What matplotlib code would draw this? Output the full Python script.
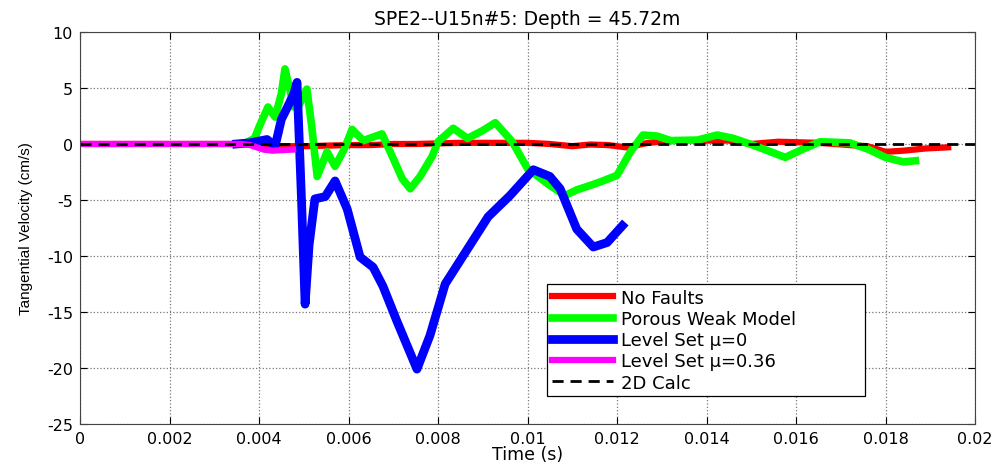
import numpy as np
import matplotlib
matplotlib.use('Agg')
import matplotlib.pyplot as plt

plt.rcParams['font.family'] = ['DejaVu Sans']
plt.rcParams['axes.unicode_minus'] = False

# Tangential velocity traces (time in s, velocity in cm/s)
t_nofault = [0.0, 0.0036, 0.0040, 0.0045, 0.0050, 0.0055, 0.0060, 0.0065, 0.0070, 0.0075,
             0.0080, 0.0085, 0.0090, 0.0095, 0.0100, 0.0105, 0.0110, 0.0114, 0.0118,
             0.0122, 0.0127, 0.0132, 0.0138, 0.0145, 0.0150, 0.0156, 0.0165, 0.0172,
             0.0176, 0.0180, 0.0184, 0.0189, 0.0194]
v_nofault = [0.0, 0.0, -0.1, -0.2, -0.2, -0.15, -0.1, -0.1, 0.0, 0.0,
             0.05, 0.1, 0.1, 0.1, 0.1, 0.0, -0.2, -0.05, -0.1,
             -0.3, 0.1, 0.3, 0.3, 0.3, 0.0, 0.2, 0.1, -0.1,
             -0.2, -0.7, -0.6, -0.4, -0.3]

t_porous = [0.0035, 0.0037, 0.0039, 0.0040, 0.0042, 0.00436, 0.0045, 0.00458, 0.00468,
            0.00478, 0.00490, 0.00507, 0.00518, 0.0053, 0.00552, 0.0057, 0.0059,
            0.00608, 0.00633, 0.00675, 0.0070, 0.0072, 0.00738, 0.0076, 0.00787,
            0.0080, 0.00834, 0.00866, 0.0090, 0.00928, 0.00966, 0.0100, 0.0105,
            0.01084, 0.0111, 0.01133, 0.01162, 0.0120, 0.0123, 0.01258, 0.0129,
            0.0132, 0.0138, 0.01424, 0.0146, 0.01504, 0.01576, 0.01616, 0.01654,
            0.0172, 0.0176, 0.0180, 0.0184, 0.01867]
v_porous = [0.0, 0.1, 0.5, 1.5, 3.3, 2.4, 4.5, 6.7, 5.0,
            3.3, 3.5, 4.9, 1.5, -2.9, -0.7, -2.0, -0.5,
            1.3, 0.3, 0.9, -1.3, -3.1, -4.0, -2.9, -1.1,
            0.2, 1.4, 0.5, 1.2, 1.9, 0.2, -2.2, -3.7,
            -4.6, -4.1, -3.8, -3.4, -2.8, -0.7, 0.8, 0.7,
            0.3, 0.35, 0.8, 0.5, -0.1, -1.2, -0.45, 0.2,
            0.1, -0.45, -1.2, -1.6, -1.5]

t_ls0 = [0.0035, 0.0038, 0.00418, 0.00436, 0.0045, 0.00465, 0.00478, 0.00485,
         0.00495, 0.00503, 0.00512, 0.00525, 0.00548, 0.0057, 0.00597, 0.00626,
         0.00655, 0.00677, 0.00709, 0.00753, 0.00782, 0.00816, 0.00856, 0.00912,
         0.00961, 0.01013, 0.0105, 0.01073, 0.0111, 0.01147, 0.01178, 0.01212]
v_ls0 = [0.0, 0.1, 0.4, -0.2, 2.2, 3.4, 4.5, 5.5,
         -5.0, -14.3, -9.0, -4.9, -4.7, -3.3, -5.8, -10.1,
         -11.0, -12.7, -15.9, -20.1, -17.1, -12.5, -10.0, -6.5,
         -4.6, -2.3, -2.9, -4.0, -7.6, -9.2, -8.8, -7.3]

t_ls036 = [0.0, 0.0036, 0.0038, 0.0041, 0.0043, 0.0045, 0.00476]
v_ls036 = [0.0, 0.0, -0.1, -0.5, -0.6, -0.55, -0.5]

t_2d = [0.0, 0.02]
v_2d = [0.0, 0.0]

fig = plt.figure(figsize=(10, 4.64), dpi=100)
ax = fig.add_axes([0.08, 0.084, 0.895, 0.845])

line_kw = dict(solid_joinstyle='round')
ax.plot(t_nofault, v_nofault, color='#ff0000', linewidth=4.5, label='No Faults', **line_kw)
ax.plot(t_porous, v_porous, color='#00ff00', linewidth=5.5, label='Porous Weak Model', **line_kw)
ax.plot(t_ls0, v_ls0, color='#0000ff', linewidth=6.3, label='Level Set \u03bc=0', **line_kw)
ax.plot(t_ls036, v_ls036, color='#ff00ff', linewidth=4.5, label='Level Set \u03bc=0.36', **line_kw)
ax.plot(t_2d, v_2d, color='black', linewidth=2, linestyle=(0, (4, 2.5)), label='2D Calc')

ax.set_xlim(0, 0.02)
ax.set_ylim(-25, 10)
ax.set_xticks(np.arange(0, 0.0201, 0.002))
ax.set_xticklabels(['0', '0.002', '0.004', '0.006', '0.008', '0.01',
                    '0.012', '0.014', '0.016', '0.018', '0.02'])
ax.set_yticks(np.arange(-25, 11, 5))

ax.grid(True, linestyle=':', color='#777777', linewidth=0.9)
ax.tick_params(direction='in', top=True, right=True, labelsize=11.5, length=5, pad=5)
for s in ax.spines.values():
    s.set_color('#444444')

ax.set_xlabel('Time (s)', fontsize=12.5, labelpad=-1)
ax.set_ylabel('Tangential Velocity (cm/s)', fontsize=11, labelpad=10,
              family=['Liberation Sans Narrow', 'Liberation Sans'])
ax.set_title('SPE2--U15n#5: Depth = 45.72m', fontsize=13.5, pad=6)

leg = ax.legend(loc='lower left', bbox_to_anchor=(0.522, 0.071, 0.355, 0.28), mode='expand',
                borderaxespad=0, fontsize=13, fancybox=False, framealpha=1,
                edgecolor='black', handlelength=3.4, borderpad=0.25,
                labelspacing=0.18, handletextpad=0.45)
leg.get_frame().set_linewidth(0.9)

fig.savefig('out.png', dpi=100)
